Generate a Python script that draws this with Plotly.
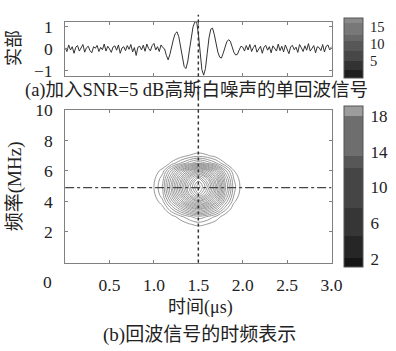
import numpy as np
import plotly.graph_objects as go

W, H = 396, 351

# ---- data: echo signal (real part), sampled every 0.02 us from 0 to 3 us
t_start, t_step = 0.0, 0.02
signal = [
    0.05,-0.12,0.18,-0.05,0.10,-0.20,0.08,0.15,-0.10,0.02,
    0.20,-0.15,0.05,0.12,-0.08,-0.18,0.10,0.03,0.16,-0.12,
    0.07,-0.04,0.22,-0.10,0.12,0.00,-0.16,0.09,0.14,-0.06,
    0.18,-0.20,0.04,0.10,-0.08,0.15,-0.02,0.20,-0.14,0.06,
    -0.30,0.08,0.12,-0.05,0.17,-0.11,0.22,0.02,-0.09,0.15,
    0.25,-0.05,0.10,-0.12,0.18,0.06,
    0.00,-0.30,-0.50,-0.25,0.15,0.45,0.70,0.78,0.55,0.05,
    -0.45,-0.80,-0.90,-0.60,-0.05,0.55,1.00,1.22,1.25,0.70,
    -0.20,-0.95,-1.20,-0.90,-0.20,0.50,0.90,0.95,0.65,0.20,
    -0.15,-0.38,-0.42,-0.20,0.10,0.32,0.42,0.35,0.10,-0.15,
    -0.28,-0.25,-0.05,0.12,0.08,
    -0.10,0.15,-0.05,0.20,-0.12,0.06,0.18,-0.15,0.02,0.12,
    -0.20,0.08,0.16,-0.06,0.10,-0.18,0.14,0.04,-0.10,0.22,
    -0.08,0.12,-0.14,0.18,0.00,-0.22,0.10,0.16,-0.04,0.08,
    -0.16,0.20,0.05,-0.12,0.14,-0.06,0.24,-0.10,0.02,0.15,
    -0.18,0.10,0.06,-0.08,0.20,-0.14,0.12,0.18,-0.05,0.10,
]
time = [round(t_start + i * t_step, 2) for i in range(len(signal))]

# ---- time-frequency representation: read marginal profiles
tf_time = [0.9, 1.0, 1.1, 1.2, 1.3, 1.4, 1.5, 1.6, 1.7, 1.8, 1.9, 2.0, 2.1]
tf_time_profile = [0.02, 0.105, 0.19, 0.40, 0.62, 0.84, 1.0, 0.86, 0.64, 0.36, 0.16, 0.08, 0.02]
tf_freq = [1.5, 2.0, 2.5, 3.0, 3.5, 4.0, 4.5, 5.0, 5.5, 6.0, 6.5, 7.0, 7.5, 8.0, 8.5]
tf_freq_profile = [0.02, 0.05, 0.12, 0.21, 0.45, 0.72, 0.93, 1.0, 0.90, 0.68, 0.30, 0.13, 0.06, 0.02, 0.01]
tf_peak = 19.0
tf_z = [[tf_peak * a * b for a in tf_time_profile] for b in tf_freq_profile]

marker_time = 1.5
marker_freq = 4.9

x_ticks = [0.5, 1.0, 1.5, 2.0, 2.5, 3.0]
x_ticktext = ["0.5", "1.0", "1.5", "2.0", "2.5", "3.0"]
top_y_ticks = [-1, 0, 1]
top_y_text = ["\u22121", "0", "1"]
bot_y_ticks = [2, 4, 6, 8, 10]

cb_top_ticks = [5, 10, 15]
cb_bot_ticks = [2, 6, 10, 14, 18]

# ---- layout geometry (pixels -> paper)
def px_x(p):
    return p / W
def px_y(p):
    return 1 - p / H

X0, X1 = 67, 341
TOP0, TOP1 = 12, 69
BOT0, BOT1 = 104, 263

SERIF = "Liberation Serif, Noto Sans CJK SC, serif"
TXT = "#222222"
AX = "#808080"

def discrete_scale(stops, colors):
    cs = []
    edges = [0.0] + stops + [1.0]
    for i, c in enumerate(colors):
        cs.append([edges[i], c])
        cs.append([edges[i + 1], c])
    return cs

top_cs = discrete_scale([0.133, 0.283, 0.45, 0.617, 0.717, 0.917],
                        ["#1e1e1e", "#333333", "#474747", "#575757", "#686868", "#787878", "#8a8a8a"])
bot_cs = discrete_scale([0.056, 0.193, 0.366, 0.615, 0.689, 0.938],
                        ["#161616", "#262626", "#363636", "#454545", "#575757", "#6e6e6e", "#9c9c9c"])

fig = go.Figure()

fig.add_trace(go.Scatter(x=time, y=signal, mode="lines",
                         line=dict(color="#333333", width=1),
                         xaxis="x", yaxis="y", showlegend=False, hoverinfo="skip"))

fig.add_trace(go.Contour(x=tf_time, y=tf_freq, z=tf_z,
                         contours=dict(start=2, end=19, size=0.75, coloring="none"),
                         line=dict(color="#8c8c8c", width=0.9),
                         showscale=False, xaxis="x2", yaxis="y2", hoverinfo="skip"))

cb_common = dict(thickness=19, thicknessmode="pixels", lenmode="pixels",
                 x=px_x(354), xanchor="left", yanchor="middle", xpad=0, ypad=0,
                 outlinewidth=1, outlinecolor="#555555",
                 ticks="outside", ticklen=4, tickcolor="rgba(0,0,0,0)")

fig.add_trace(go.Scatter(x=[1.5], y=[0], mode="markers", xaxis="x", yaxis="y",
                         marker=dict(size=1, opacity=0, color=[5], cmin=0, cmax=17.6,
                                     colorscale=top_cs, showscale=True,
                                     colorbar=dict(len=60, y=px_y(40), tickvals=cb_top_ticks,
                                                   tickfont=dict(family=SERIF, size=14.5, color=TXT),
                                                   **cb_common)),
                         showlegend=False, hoverinfo="skip"))
fig.add_trace(go.Scatter(x=[1.5], y=[5], mode="markers", xaxis="x2", yaxis="y2",
                         marker=dict(size=1, opacity=0, color=[5], cmin=1.2, cmax=19.1,
                                     colorscale=bot_cs, showscale=True,
                                     colorbar=dict(len=161, y=px_y(183.5), tickvals=cb_bot_ticks,
                                                   tickfont=dict(family=SERIF, size=17, color=TXT),
                                                   **cb_common)),
                         showlegend=False, hoverinfo="skip"))

axis_common = dict(showgrid=False, zeroline=False, showline=True, linecolor=AX, linewidth=1,
                   mirror="ticks", ticks="inside", ticklen=3, tickcolor=AX,
                   tickfont=dict(family=SERIF, size=17.5, color=TXT))

fig.update_layout(
    width=W, height=H, margin=dict(l=0, r=0, t=0, b=0),
    paper_bgcolor="white", plot_bgcolor="white", showlegend=False,
    xaxis=dict(domain=[px_x(X0), px_x(X1)], range=[0, 3], anchor="y",
               tickvals=x_ticks[:-1], showticklabels=False, **axis_common),
    yaxis=dict(domain=[px_y(TOP1), px_y(TOP0)], range=[-1.25, 1.25], anchor="x",
               tickvals=top_y_ticks, ticktext=top_y_text, ticklabelstandoff=8, **axis_common),
    xaxis2=dict(domain=[px_x(X0), px_x(X1)], range=[0, 3], anchor="y2",
                tickvals=x_ticks, ticktext=x_ticktext, ticklabelstandoff=6, **axis_common),
    yaxis2=dict(domain=[px_y(BOT1), px_y(BOT0)], range=[0, 10], anchor="x2",
                tickvals=bot_y_ticks, ticklabelstandoff=8, **axis_common),
)

# reference lines
fig.add_shape(type="line", xref="x2", yref="paper", x0=marker_time, x1=marker_time,
              y0=px_y(BOT1), y1=px_y(5), line=dict(color="#333333", width=1.5, dash="dot"))
fig.add_shape(type="line", xref="x2", yref="y2", x0=0, x1=3, y0=marker_freq, y1=marker_freq,
              line=dict(color="#444444", width=1.2, dash="dashdot"))

def ann(text, x, y, size, angle=0):
    fig.add_annotation(text=text, x=px_x(x), y=px_y(y), xref="paper", yref="paper",
                       showarrow=False, textangle=angle, xanchor="center", yanchor="middle",
                       font=dict(family=SERIF, size=size, color=TXT))

ann("(a)加入SNR=5 dB高斯白噪声的单回波信号", 202, 84, 18.5)
ann("实部", 15, 40, 18, -90)
ann("频率(MHz)", 15, 184, 19, -90)
ann("0", 49, 283, 17.5)
ann("时间(μs)", 206, 310, 18)
ann("(b)回波信号的时频表示", 205, 338, 19)

fig.write_html("out.html")
